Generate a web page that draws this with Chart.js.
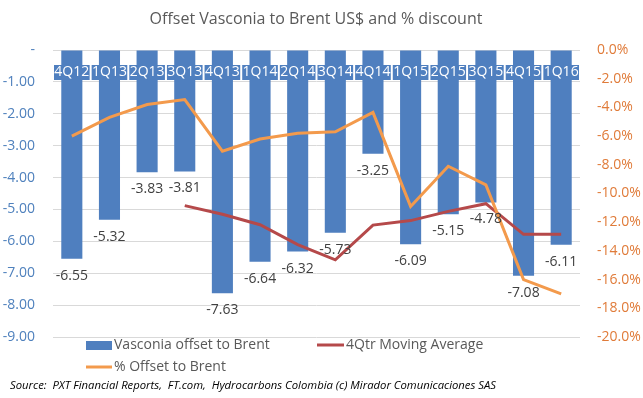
<!DOCTYPE html>
<html>
<head>
<meta charset="utf-8">
<script src="https://cdn.jsdelivr.net/npm/chart.js@4"></script>
<style>
html,body{margin:0;padding:0;background:#fff;}
#wrap{width:643px;height:398px;position:relative;}
</style>
</head>
<body>
<div id="wrap"><canvas id="c" width="643" height="398"></canvas></div>
<script>
const categories = ["4Q12","1Q13","2Q13","3Q13","4Q13","1Q14","2Q14","3Q14","4Q14","1Q15","2Q15","3Q15","4Q15","1Q16"];
const offsetUSD = [-6.55,-5.32,-3.83,-3.81,-7.63,-6.64,-6.32,-5.73,-3.25,-6.09,-5.15,-4.78,-7.08,-6.11];
const movingAvg = [null,null,null,-4.88,-5.15,-5.48,-6.10,-6.58,-5.49,-5.35,-5.06,-4.82,-5.78,-5.78];
const pctOffset = [-6.0,-4.7,-3.8,-3.45,-7.05,-6.2,-5.8,-5.7,-4.35,-10.9,-8.1,-9.4,-16.0,-17.0];
const titleText = "Offset Vasconia to Brent US$ and % discount";
const sourceText = "Source:  PXT Financial Reports,  FT.com,  Hydrocarbons Colombia (c) Mirador Comunicaciones SAS";
const legendLabels = ["Vasconia offset to Brent","4Qtr Moving Average","% Offset to Brent"];

const BAR = "#4f7fbf", RED = "#b5494a", ORANGE = "#f39a4c", GRAY = "#595959";
const FONT = "'Open Sans', sans-serif";

const overlay = {
  id: "overlay",
  afterDatasetsDraw(chart) {
    const ctx = chart.ctx, x = chart.scales.x, y = chart.scales.y;
    ctx.save();
    // category labels on boxes
    ctx.font = "14px " + FONT;
    ctx.textAlign = "center"; ctx.textBaseline = "middle";
    const cw = x.getPixelForValue(1) - x.getPixelForValue(0);
    categories.forEach((c, i) => {
      const cx = x.getPixelForValue(i);
      ctx.fillStyle = BAR;
      ctx.fillRect(cx - cw/2 + 1, 65, cw - 2, 15);
      ctx.fillStyle = "#fff";
      ctx.fillText(c, cx, 72.5);
    });
    // data labels
    ctx.font = "14px " + FONT;
    ctx.fillStyle = "#404040";
    offsetUSD.forEach((v, i) => {
      const cx = x.getPixelForValue(i);
      ctx.fillText(v.toFixed(2), cx, y.getPixelForValue(v) + 17);
    });
    ctx.restore();
  },
  afterDraw(chart) {
    const ctx = chart.ctx;
    ctx.save();
    ctx.fillStyle = GRAY;
    ctx.font = "16px " + FONT;
    ctx.textAlign = "center"; ctx.textBaseline = "middle";
    ctx.fillText(titleText, 316, 19);
    // legend
    ctx.font = "14px " + FONT;
    ctx.textAlign = "left";
    ctx.fillStyle = BAR;
    ctx.fillRect(86, 341, 26, 9);
    ctx.fillStyle = GRAY;
    ctx.fillText(legendLabels[0], 114, 345);
    ctx.strokeStyle = RED; ctx.lineWidth = 3;
    ctx.beginPath(); ctx.moveTo(317, 345); ctx.lineTo(344, 345); ctx.stroke();
    ctx.fillText(legendLabels[1], 346, 345);
    ctx.strokeStyle = ORANGE;
    ctx.beginPath(); ctx.moveTo(86, 367); ctx.lineTo(112, 367); ctx.stroke();
    ctx.fillText(legendLabels[2], 114, 367);
    // source
    ctx.fillStyle = "#000";
    ctx.font = "italic 11.3px " + FONT;
    ctx.fillText(sourceText, 10, 386);
    ctx.restore();
  }
};

new Chart(document.getElementById("c"), {
  type: "bar",
  data: {
    labels: categories,
    datasets: [
      { type: "line", label: legendLabels[1], data: movingAvg, yAxisID: "y", borderColor: RED, borderWidth: 3, pointRadius: 0, tension: 0, order: 1 },
      { type: "line", label: legendLabels[2], data: pctOffset, yAxisID: "y2", borderColor: ORANGE, borderWidth: 3, pointRadius: 0, tension: 0, order: 0 },
      { type: "bar", label: legendLabels[0], data: offsetUSD, yAxisID: "y", backgroundColor: BAR, barPercentage: 0.56, categoryPercentage: 1, order: 2 }
    ]
  },
  options: {
    responsive: false,
    animation: false,
    layout: { padding: { top: 50, bottom: 53, left: 0, right: 0 } },
    plugins: { legend: { display: false }, title: { display: false }, tooltip: { enabled: false } },
    scales: {
      x: { display: true, ticks: { display: false }, grid: { display: false }, border: { display: false } },
      y: {
        position: "left", min: -9, max: 0,
        ticks: { stepSize: 1, padding: 18, color: "#4f81bd", font: { family: FONT, size: 14 },
          callback: v => v === 0 ? "-" : v.toFixed(2) },
        grid: { color: "#d9d9d9", drawTicks: false },
        border: { display: false },
        afterFit(s) { s.width = 53; }
      },
      y2: {
        position: "right", min: -20, max: 0,
        ticks: { stepSize: 2, padding: 17, color: "#e07b39", font: { family: FONT, size: 14 },
          callback: v => v.toFixed(1) + "%" },
        grid: { display: false, drawTicks: false },
        border: { display: false },
        afterFit(s) { s.width = 63; }
      }
    }
  },
  plugins: [overlay]
});
</script>
</body>
</html>
